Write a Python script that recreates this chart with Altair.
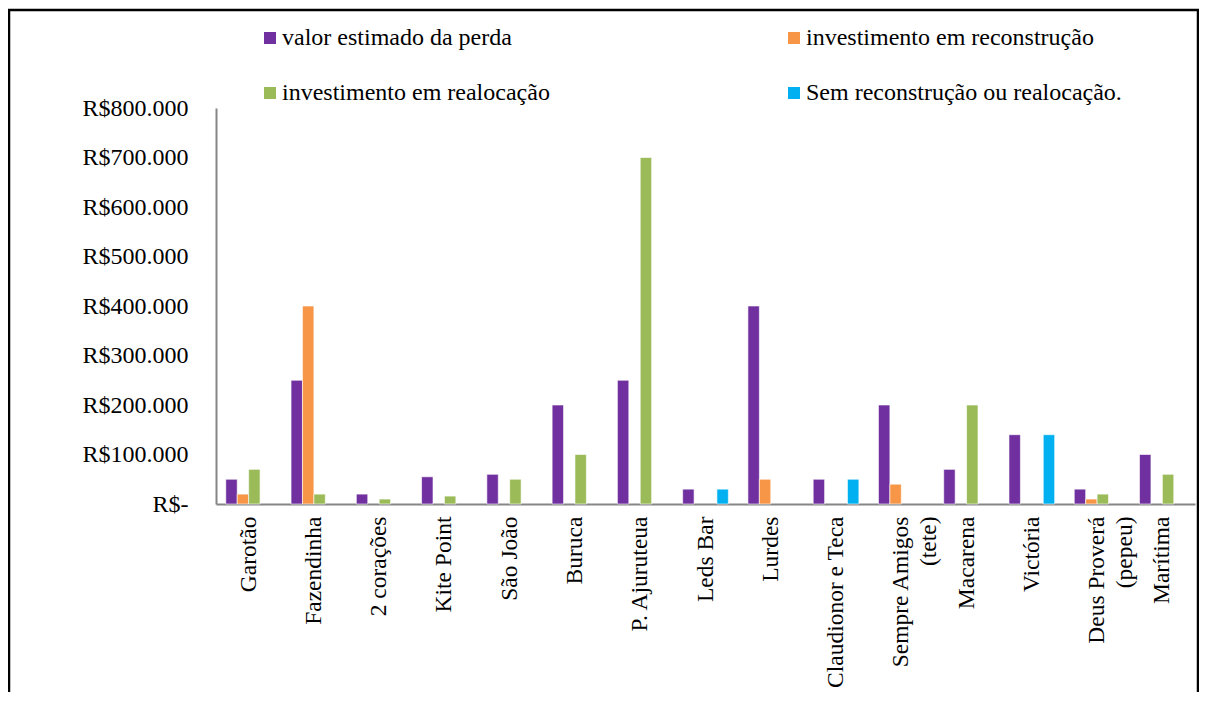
import altair as alt
import pandas as pd

categories = ["Garotão", "Fazendinha", "2 corações", "Kite Point", "São João", "Buruca",
              "P. Ajuruteua", "Leds Bar", "Lurdes", "Claudionor e Teca",
              "Sempre Amigos (tete)", "Macarena", "Victória", "Deus Proverá (pepeu)", "Marítima"]
series = ["valor estimado da perda", "investimento em reconstrução",
          "investimento em realocação", "Sem reconstrução ou realocação."]
colors = ["#7030A0", "#F79646", "#9BBB59", "#00B0F0"]

perda = [50000, 250000, 20000, 55000, 60000, 200000, 250000, 30000, 400000, 50000,
         200000, 70000, 140000, 30000, 100000]
reconstrucao = [20000, 400000, None, None, None, None, None, None, 50000, None,
                40000, None, None, 10000, None]
realocacao = [70000, 20000, 10000, 16000, 50000, 100000, 700000, None, None, None,
              None, 200000, None, 20000, 60000]
sem = [None, None, None, None, None, None, None, 30000, None, 50000,
       None, None, 140000, None, None]

rows = []
for s, vals in zip(series, [perda, reconstrucao, realocacao, sem]):
    for c, v in zip(categories, vals):
        if v is not None:
            rows.append({"local": c, "serie": s, "valor": v})
df = pd.DataFrame(rows)

FONT = "Liberation Serif"

bars = alt.Chart(df).mark_bar(stroke="white", strokeWidth=1, strokeOpacity=0.6).encode(
    x=alt.X("local:N", sort=categories,
            scale=alt.Scale(paddingInner=0.3, paddingOuter=0.15),
            axis=alt.Axis(title=None, labelAngle=-90, ticks=False, domainColor="#868686",
                          domainWidth=2, labelFont=FONT, labelFontSize=23.5, labelColor="black",
                          labelPadding=12, labelLineHeight=28,
                          labelExpr="indexof(datum.label, ' (') > 0 ? [substring(datum.label, 0, indexof(datum.label, ' (')), substring(datum.label, indexof(datum.label, ' (') + 1)] : datum.label")),
    xOffset=alt.XOffset("serie:N", sort=series, scale=alt.Scale(domain=series, paddingInner=0)),
    y=alt.Y("valor:Q", scale=alt.Scale(domain=[0, 800000]),
            axis=alt.Axis(title=None, values=list(range(0, 800001, 100000)), grid=False,
                          ticks=False, domainColor="#868686", domainWidth=2,
                          labelFont=FONT, labelFontSize=24, labelColor="black", labelPadding=28,
                          labelExpr="datum.value == 0 ? 'R$-' : 'R$' + format(datum.value / 1000, 'd') + '.000'")),
    color=alt.Color("serie:N", sort=series, scale=alt.Scale(domain=series, range=colors),
                    legend=alt.Legend(title=None, orient="none", legendX=42, legendY=-82,
                                      direction="horizontal",
                                      columns=2, columnPadding=232, rowPadding=31, padding=0,
                                      symbolType="square", symbolSize=144, symbolStrokeWidth=0,
                                      labelFont=FONT, labelFontSize=24, labelColor="black",
                                      labelLimit=600, labelOffset=0)),
)

frame = alt.Chart(pd.DataFrame({"f": [0]})).mark_rect(
    filled=False, stroke="black", strokeWidth=2.5, clip=False
).encode(x=alt.value(-207), x2=alt.value(982), y=alt.value(-98), y2=alt.value(640))

chart = alt.layer(bars, frame).properties(
    width=979, height=396,
    autosize=alt.AutoSizeParams(type="none"),
    padding={"left": 208, "top": 100, "right": 4, "bottom": 188},
).configure(background="white", font=FONT).configure_view(stroke=None)

chart.save("out.html", embed_options={"renderer": "svg", "actions": False})
